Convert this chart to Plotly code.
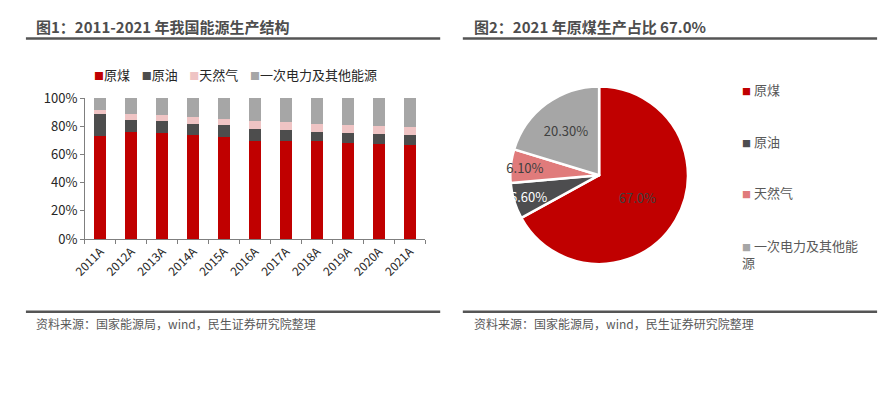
import plotly.graph_objects as go

# The page adds an 8px body margin; size the figure so the page is exactly 891x394
W, H = 875, 378
OFF = 8
FONT = "Noto Sans CJK SC"

years = ["2011A", "2012A", "2013A", "2014A", "2015A", "2016A",
         "2017A", "2018A", "2019A", "2020A", "2021A"]
coal = [72.8, 76.2, 75.3, 73.5, 72.1, 69.7, 69.4, 69.2, 68.3, 67.4, 67.0]
oil = [15.7, 8.5, 8.3, 8.3, 8.5, 8.3, 7.9, 7.0, 7.0, 6.8, 6.6]
gas = [3.0, 4.1, 4.7, 4.7, 4.8, 5.4, 5.4, 5.6, 5.6, 6.2, 6.1]
other = [8.5, 11.2, 11.7, 13.5, 14.6, 16.6, 17.3, 18.2, 19.1, 19.6, 20.3]

series_names = ["原煤", "原油", "天然气", "一次电力及其他能源"]
bar_colors = ["#C00000", "#4D4D4D", "#EFC4C4", "#A6A6A6"]

pie_labels = ["原煤", "原油", "天然气", "一次电力及其他能源"]
pie_values = [67.0, 6.6, 6.1, 20.3]
pie_text = ["67.0%", "6.60%", "6.10%", "20.30%"]
pie_colors = ["#C00000", "#4D4D4F", "#E07B7B", "#A6A6A6"]
pie_text_colors = ["#404040", "#FFFFFF", "#404040", "#404040"]

title1 = "图1：2011-2021 年我国能源生产结构"
title2 = "图2：2021 年原煤生产占比 67.0%"
source = "资料来源：国家能源局，wind，民生证券研究院整理"


def px(x):
    return (x - OFF) / W


def py(y):
    return 1 - (y - OFF) / H


fig = go.Figure()
for name, vals, col in zip(series_names, [coal, oil, gas, other], bar_colors):
    fig.add_trace(go.Bar(
        x=years, y=[v / 100 for v in vals], name=name,
        marker=dict(color=col, line=dict(width=0)),
        showlegend=False, xaxis="x", yaxis="y",
    ))

fig.add_trace(go.Pie(
    labels=pie_labels, values=pie_values, text=pie_text,
    texttemplate="%{text}", textposition="inside",
    insidetextorientation="horizontal",
    textfont=dict(family=FONT, size=13, color=pie_text_colors),
    marker=dict(colors=pie_colors, line=dict(color="white", width=2.5)),
    sort=False, direction="clockwise", rotation=0,
    domain=dict(x=[px(500), px(689)], y=[py(267), py(80)]),
    showlegend=False,
))

fig.update_layout(
    width=W, height=H,
    margin=dict(l=0, r=0, t=0, b=0),
    paper_bgcolor="white", plot_bgcolor="white",
    barmode="stack", bargap=0.61,
    uniformtext=dict(minsize=13, mode="show"),
    font=dict(family=FONT, color="#262626"),
    xaxis=dict(
        domain=[px(72), px(418)], anchor="y",
        showline=True, linecolor="#7F7F7F", linewidth=1,
        ticks="outside", tickson="boundaries", ticklen=4, tickcolor="#7F7F7F",
        tickangle=-45, tickfont=dict(size=12, color="#262626"),
        showgrid=False,
    ),
    yaxis=dict(
        domain=[py(240.7), py(92.3)], anchor="x",
        range=[0, 1], dtick=0.2, tickformat=".0%",
        showline=True, linecolor="#7F7F7F", linewidth=1,
        ticks="outside", ticklen=4, tickcolor="#7F7F7F",
        tickfont=dict(size=13, color="#262626"),
        showgrid=False, zeroline=False,
    ),
)

# titles
for x0, t in [(20, title1), (465, title2)]:
    fig.add_annotation(x=px(x0), y=py(17), xref="paper", yref="paper",
                       xanchor="left", yanchor="middle", showarrow=False,
                       text=f"<b>{t}</b>",
                       font=dict(family=FONT, size=15, color="#4D4D4D"))
# header/footer rules
for (x0, x1) in [(12, 433), (456, 877)]:
    for yy in [29.7, 317.3]:
        fig.add_shape(type="line", xref="paper", yref="paper",
                      x0=px(x0), x1=px(x1), y0=py(yy), y1=py(yy),
                      line=dict(color="#555555", width=2.5))
# sources
for x0 in [20, 465]:
    fig.add_annotation(x=px(x0), y=py(330), xref="paper", yref="paper",
                       xanchor="left", yanchor="middle", showarrow=False,
                       text=source, font=dict(family=FONT, size=12, color="#595959"))

# bar legend (top, centered)
items = [f'<span style="color:{c};font-size:10px">■</span>{n}'
         for n, c in zip(series_names, bar_colors)]
fig.add_annotation(x=px(225), y=py(68), xref="paper", yref="paper",
                   xanchor="center", yanchor="middle", showarrow=False,
                   text="    ".join(items),
                   font=dict(family=FONT, size=13, color="#262626"))

# pie legend (right, vertical)
pie_leg_y = [83, 138, 192, 256]
for lab, col, yy in zip(pie_labels, pie_colors, pie_leg_y):
    t = lab if len(lab) <= 8 else lab[:8] + "<br>" + lab[8:]
    fig.add_annotation(x=px(738), y=py(yy), xref="paper", yref="paper",
                       xanchor="left", yanchor="middle", showarrow=False,
                       align="left",
                       text=f'<span style="color:{col};font-size:9px">■</span> {t}',
                       font=dict(family=FONT, size=13, color="#595959"))

fig.write_html("out.html")
